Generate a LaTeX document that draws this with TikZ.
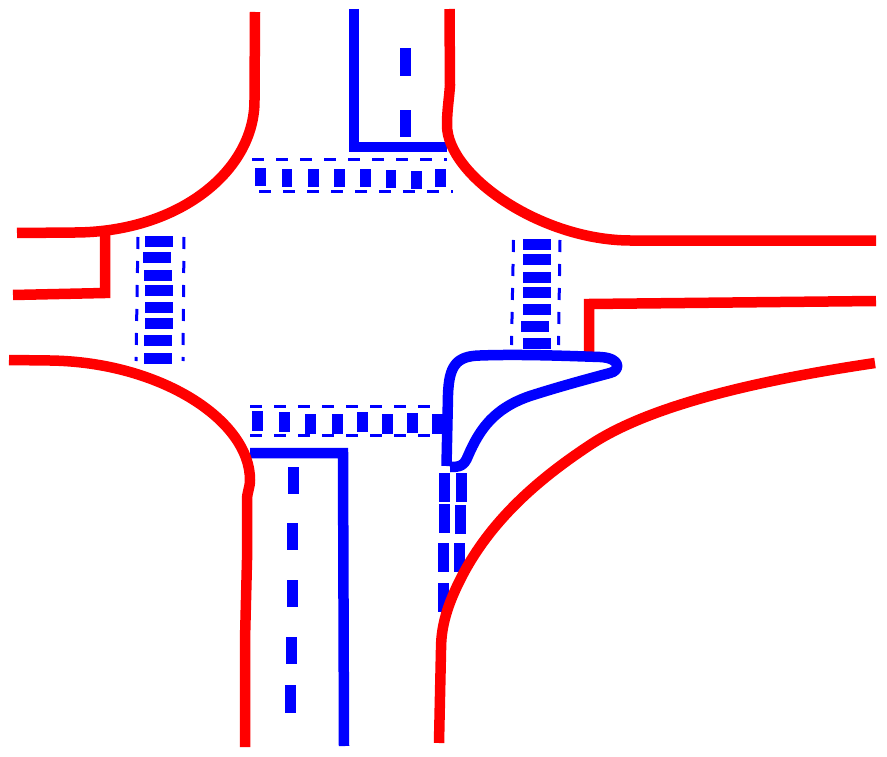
\documentclass[tikz,border=0pt]{standalone}
\begin{document}
\begin{tikzpicture}[x=1pt,y=-1pt,
  kerb/.style={draw=red,line width=10.5pt,line join=miter},
  lane/.style={draw=blue,line width=10.5pt,line join=miter},
  stripe/.style={fill=blue,draw=none},
  guide/.style={draw=blue,line width=3pt,dash pattern=on 12pt off 12pt}]
\useasboundingbox (0,0) rectangle (887,757);
% top crossing
\foreach \a/\b/\t in {255/266/168,282/292/169,308/319/169,334/345/169,360/371/169,386/396/170,411/422/171,435/446/169}
  \fill[stripe] (\a,\t) rectangle (\b,\t+18);
\draw[guide] (252,160) -- (447,160);
\draw[guide] (259,192) -- (453,192);
% left crossing
\foreach \a/\t in {145/236,143/252,144/269.5,145/285,145/302,145/318,144/335,144/353}
  \fill[stripe] (\a,\t) rectangle (\a+27.5,\t+11);
\draw[guide] (138,237) -- (136,361);
\draw[guide] (184,237) -- (183,361);
% right crossing
\foreach \a/\t in {523/239,523/254,523/271.5,523/287,523/304,521/321,523/338}
  \fill[stripe] (\a,\t) rectangle (\a+27.5,\t+11);
\draw[guide] (513.5,240) -- (511.5,345);
\draw[guide] (560,240) -- (558.5,345);
% bottom crossing
\foreach \a/\t in {252/411,279/412,305/414,332/414,357/412,382/414,407/413,432/414}
  \fill[stripe] (\a,\t) rectangle (\a+11,\t+19.5);
\draw[guide] (250,406.5) -- (430,406.5);
\draw[guide] (250,435) -- (430,435);
% lanes
\draw[lane] (354,9) -- (354,147) -- (447,147);
\fill[stripe] (400,48) rectangle (411,76);
\fill[stripe] (400,110) rectangle (411,137);
\draw[lane] (250,453) -- (343,453) -- (344,746);
\fill[stripe] (288,467) rectangle (299,494);
\fill[stripe] (287,523) rectangle (298,550);
\fill[stripe] (287,580) rectangle (298,607);
\fill[stripe] (286,637) rectangle (297,664);
\fill[stripe] (285,685) rectangle (296,713);
% island tail
\foreach \a/\t in {439/473,439/504,438/543,437.5/583,456/473,454.5/505,454/543}
  \fill[stripe] (\a,\t) rectangle (\a+11,\t+28.5);
% kerbs
\draw[kerb] (255,12) -- (254.5,100) .. controls (255,170) and (180,232) .. (75,232.5) -- (17,233);
\draw[kerb] (105,232) -- (105,293) -- (13,295);
\draw[kerb] (449.5,9) -- (450,85) .. controls (449,100) and (447,110) .. (447,125) .. controls (447,175) and (540,240) .. (630,240.5) -- (876,240.5);
\draw[kerb] (876,301) -- (589,304) -- (589,352);
\draw[kerb] (875,363) .. controls (760,380) and (650,405) .. (590,445) .. controls (540,478) and (490,520) .. (460,580) .. controls (445,610) and (441,630) .. (441,650) -- (439,743);
\draw[kerb] (9,360) -- (50,360.5) .. controls (160,362) and (250,420) .. (250,480) .. controls (250,488) and (247,492) .. (247,500) -- (247,560) -- (245,640) -- (245,747);
% island
\draw[draw=blue,line width=10.5pt,line join=round] (446.5,466) -- (448,395)
  .. controls (449,366) and (456,356) .. (480,355.5)
  .. controls (520,354) and (570,356) .. (600,357)
  .. controls (622,358) and (620,371) .. (610,373)
  .. controls (580,381) and (555,388) .. (530,396)
  .. controls (495,408) and (480,428) .. (468,456)
  .. controls (464,466) and (460,467) .. (450,467);
\end{tikzpicture}
\end{document}
